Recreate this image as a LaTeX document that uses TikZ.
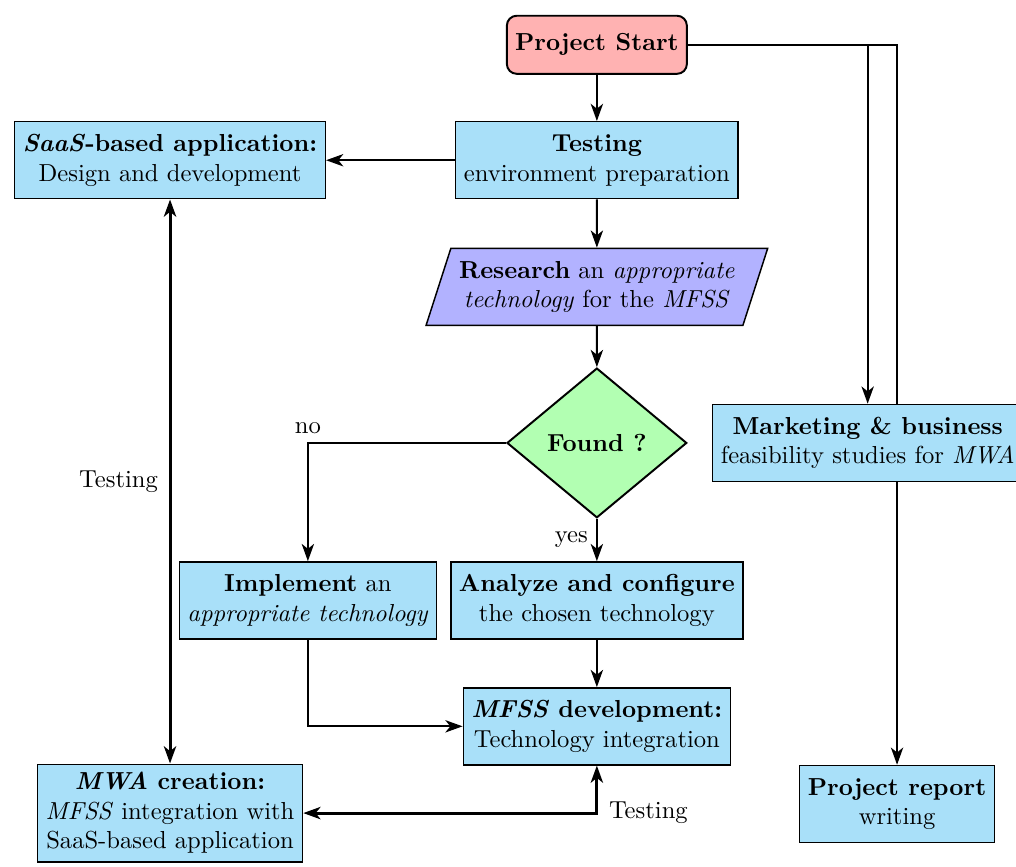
\documentclass[tikz,border=0pt]{standalone}
\usepackage{tikz}
\usetikzlibrary{shapes.geometric,arrows.meta,backgrounds}
\definecolor{boxblue}{RGB}{169,224,249}

\begin{document}
\begin{tikzpicture}[->,>={Stealth[length=7pt,width=5pt,inset=2pt]},thick,
   box/.style={draw,semithick,fill=boxblue,align=center,minimum height=1.1cm},
   startbox/.style={draw,thick,rounded corners=4pt,fill=red!30,minimum height=0.83cm,font=\bfseries},
   iobox/.style={trapezium,trapezium left angle=70,trapezium right angle=110,trapezium stretches body=true,draw,semithick,fill=blue!30,align=center,minimum height=1.1cm},
   decision/.style={diamond,draw,thick,fill=green!30,aspect=1.2,minimum width=2.57cm,minimum height=2.14cm,inner sep=0pt,font=\bfseries},
   testline/.style={<->,very thick}]
   \useasboundingbox (0,0) rectangle (14.52,-12.38);

   \node[startbox] (start) at (8.53,-0.64) {Project Start};
   \node[box] (testing) at (8.53,-2.29) {\textbf{Testing}\\ environment preparation};
   \node[box] (saas) at (2.43,-2.29) {\textbf{\textit{SaaS}-based application:}\\ Design and development};
   \node[iobox] (research) at (8.53,-4.10) {\textbf{Research} an \textit{appropriate}\\ \textit{technology} for the \textit{MFSS}};
   \node[decision] (found) at (8.53,-6.33) {Found ?};
   \node[box] (market) at (12.40,-6.33) {\textbf{Marketing \& business}\\ feasibility studies for \textit{MWA}};
   \node[box] (implement) at (4.40,-8.58) {\textbf{Implement} an\\ \textit{appropriate technology}};
   \node[box] (analyze) at (8.53,-8.58) {\textbf{Analyze and configure}\\ the chosen technology};
   \node[box] (mfss) at (8.53,-10.38) {\textbf{\textit{MFSS} development:}\\ Technology integration};
   \node[box] (mwa) at (2.43,-11.62) {\textbf{\textit{MWA} creation:}\\ \textit{MFSS} integration with\\ SaaS-based application};
   \node[box] (report) at (12.82,-11.49) {\textbf{Project report}\\ writing};

   \draw (start) -- (testing);
   \draw (testing) -- (saas);
   \draw (testing) -- (research);
   \draw (research) -- (found);
   \draw (found) -| node[pos=0.5,above] {no} (implement);
   \draw (found) -- node[left] {yes} (analyze);
   \draw (analyze) -- (mfss);
   \draw (implement) |- (mfss);
   \draw[testline] (saas) -- node[left=1pt] {Testing} (mwa);
   \draw[testline] (mwa) -| node[pos=0.5,right=1pt] {Testing} (mfss);
   \draw (start) -| (market);
   \begin{scope}[on background layer]
     \draw[thick] (start) -| (report);
   \end{scope}

\end{tikzpicture}
\end{document}
